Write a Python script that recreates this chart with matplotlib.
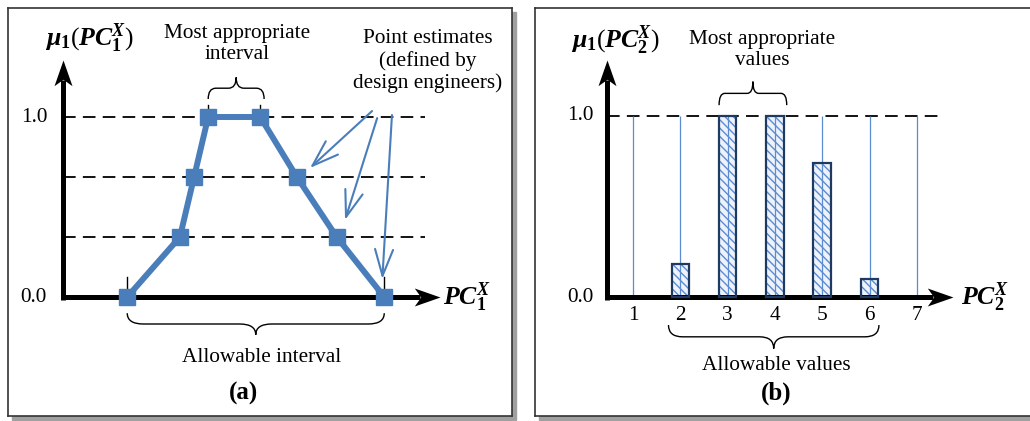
import numpy as np
import matplotlib
matplotlib.use("Agg")
from matplotlib import pyplot as plt
from matplotlib.path import Path
from matplotlib.patches import PathPatch, Rectangle

plt.rcParams['font.family'] = ['Liberation Serif', 'DejaVu Serif']
plt.rcParams['mathtext.fontset'] = 'custom'
plt.rcParams['mathtext.rm'] = 'Liberation Serif'
plt.rcParams['mathtext.it'] = 'Liberation Serif:italic'
plt.rcParams['mathtext.bf'] = 'Liberation Serif:bold'
plt.rcParams['mathtext.bfit'] = 'Liberation Serif:bold:italic'

# panel (a): fuzzy membership function built from point estimates
pc1_x = [1.0, 1.82, 2.04, 2.26, 3.07, 3.64, 4.26, 5.0]
pc1_mu = [0.0, 1/3, 2/3, 1.0, 1.0, 2/3, 1/3, 0.0]
levels_a = [1/3, 2/3, 1.0]

# panel (b): discrete membership values
pc2_vals = [1, 2, 3, 4, 5, 6, 7]
pc2_mu = [0.0, 0.18, 1.0, 1.0, 0.74, 0.10, 0.0]
ytick_labels = ["0.0", "1.0"]

W, H = 1030, 421
BLUE = "#4a7ebb"
LINEBLUE = "#5b8bd0"
NAVY = "#1f3a60"

# stealth arrow heads, tip at (0,0)
head_right = [(0, 0), (-2, 0.7), (-1.5, 0), (-2, -0.7), (0, 0)]
head_up = [(0, 0), (0.7, -2), (0, -1.5), (-0.7, -2), (0, 0)]

fig = plt.figure(figsize=(W / 100, H / 100), dpi=100)


def brace(ax, x0, x1, y0, h, r, lw=1.0):
    xm = (x0 + x1) / 2
    ym = y0 + h / 2
    verts = [(x0, y0), (x0, ym), (x0 + r, ym),
             (xm - r, ym),
             (xm, ym), (xm, y0 + h),
             (xm, ym), (xm + r, ym),
             (x1 - r, ym),
             (x1, ym), (x1, y0)]
    codes = [Path.MOVETO, Path.CURVE3, Path.CURVE3,
             Path.LINETO,
             Path.CURVE3, Path.CURVE3,
             Path.CURVE3, Path.CURVE3,
             Path.LINETO,
             Path.CURVE3, Path.CURVE3]
    ax.add_patch(PathPatch(Path(verts, codes), fill=False, lw=lw, color="black"))


def make_panel(px_left, px_right, px_top, px_bot, ox, oy, sx, sy, x_at_origin):
    # axes whose data coords map onto the pixel box
    ax = fig.add_axes([px_left / W, (H - px_bot) / H,
                       (px_right - px_left) / W, (px_bot - px_top) / H])
    ax.set_xlim(x_at_origin + (px_left - ox) / sx, x_at_origin + (px_right - ox) / sx)
    ax.set_ylim((oy - px_bot) / sy, (oy - px_top) / sy)
    ax.set_xticks([])
    ax.set_yticks([])
    for s in ax.spines.values():
        s.set_linewidth(1.2)
        s.set_color("#333333")
    # drop shadow
    fig.patches.append(Rectangle(((px_left + 4) / W, (H - px_bot - 4) / H),
                                 (px_right - px_left) / W, (px_bot - px_top) / H,
                                 transform=fig.transFigure, color="#a0a0a0",
                                 zorder=-1))
    return ax


def axes_arrows(ax, x0, xend, yend, sx, sy):
    # head length about 25 px
    ax.plot([x0, xend - 20 / sx], [0, 0], color="black", lw=3.6,
            solid_capstyle="butt", zorder=5)
    ax.plot([x0, x0], [-2.5 / sy, yend - 20 / sy], color="black", lw=3.6,
            solid_capstyle="butt", zorder=5)
    ax.plot([xend], [0], marker=head_right, markersize=37, color="black",
            markeredgewidth=0, zorder=6)
    ax.plot([x0], [yend], marker=head_up, markersize=37, color="black",
            markeredgewidth=0, zorder=6)


fs = 15.3
fsl = 18.5

# ---------------- panel (a)
sxa, sya = 64.25, 180.0
axa = make_panel(8, 512, 8, 416, 63, 297, sxa, sya, 0.0)
axes_arrows(axa, 0.0, (440 - 63) / sxa, (297 - 60) / sya, sxa, sya)
for lv in levels_a:
    axa.plot([0, (425 - 63) / sxa], [lv, lv], color="black", lw=1.3,
             dashes=(7, 4), zorder=2)
axa.plot([pc1_x[0]] * 2, [0, 0.11], color="black", lw=1)
axa.plot([pc1_x[-1]] * 2, [0, 0.11], color="black", lw=1)
axa.plot([pc1_x[3]] * 2, [1.0, 1.067], color="black", lw=1)
axa.plot([pc1_x[4]] * 2, [1.0, 1.067], color="black", lw=1)
axa.plot(pc1_x, pc1_mu, color=BLUE, lw=4.3, marker="s", markersize=11, zorder=7)

brace(axa, pc1_x[3], pc1_x[4] + 0.06, 1.0 + 0.1, 0.12, 0.12)
brace(axa, pc1_x[0], pc1_x[-1], -0.09, -0.12, 0.25)

axa.text(0.0 - 0.45, 1.0, "1.0", fontsize=fs, ha="center", va="center")
axa.text(0.0 - 0.46, 0.0, "0.0", fontsize=fs, ha="center", va="center")
axa.text((237 - 63) / sxa, (297 - 44) / sya, "Most appropriate\ninterval", fontsize=fs,
         ha="center", va="center", linespacing=1.2)
axa.text((428 - 63) / sxa, (297 - 61) / sya, "Point estimates\n(defined by\ndesign engineers)",
         fontsize=fs, ha="center", va="center", linespacing=1.2)
axa.text((262 - 63) / sxa, (297 - 357) / sya, "Allowable interval", fontsize=fs,
         ha="center", va="center")
axa.text((243 - 63) / sxa, (297 - 393) / sya, "(a)", fontsize=18, fontweight="bold",
         ha="center", va="center")
axa.text((89 - 63) / sxa, (297 - 38) / sya,
         r"$\mathbfit{\mu}_{\mathbf{1}}(\mathbfit{PC}_{\mathbf{1}}^{\mathbfit{X}})$",
         fontsize=fsl, ha="center", va="center")
axa.text((467 - 63) / sxa, 0.0,
         r"$\mathbfit{PC}_{\mathbf{1}}^{\mathbfit{X}}$",
         fontsize=fsl, ha="center", va="center")

# pointer arrows to the point estimates
starts = [(4.81, 1.033), (4.89, 0.994), (5.12, 1.011)]
ends = [(3.845, 0.717), (4.39, 0.428), (4.97, 0.10)]
for s, e in zip(starts, ends):
    axa.annotate("", xy=e, xytext=s,
                 arrowprops=dict(arrowstyle="->,head_length=1.9,head_width=0.65",
                                 color=BLUE, lw=1.5, shrinkA=0, shrinkB=0))

# ---------------- panel (b)
sxb, syb = 47.3, 181.0
axb = make_panel(535, 1034, 8, 416, 633, 297, sxb, syb, 1.0)
x0b = 1.0 + (607 - 633) / sxb
axes_arrows(axb, x0b, 1.0 + (953 - 633) / sxb, (297 - 60) / syb, sxb, syb)
axb.plot([x0b, 1.0 + (940 - 633) / sxb], [1.0, 1.0], color="black", lw=1.3,
         dashes=(7, 4), zorder=2)
axb.vlines(pc2_vals, 0, 1.0, color=LINEBLUE, lw=0.9, zorder=4)
axb.bar(pc2_vals, pc2_mu, width=0.37, color="#eef3fb", edgecolor=LINEBLUE,
        hatch="\\\\\\\\", lw=0, zorder=3)
axb.bar([v for v, m in zip(pc2_vals, pc2_mu) if m > 0],
        [m for m in pc2_mu if m > 0], width=0.37, fill=False,
        edgecolor=NAVY, lw=1.6, zorder=5)
for v in pc2_vals:
    axb.text(v, (297 - 316) / syb, str(v), fontsize=fs, ha="center", va="center")
axb.text(x0b - 0.57, 1.0, ytick_labels[1], fontsize=fs, ha="center", va="center")
axb.text(x0b - 0.57, 0.0, ytick_labels[0], fontsize=fs, ha="center", va="center")

brace(axb, 2.82, 4.25, 1.06, 0.13, 0.12)
brace(axb, 1.75, 6.2, -0.155, -0.13, 0.3)
axb.text(1.0 + (762 - 633) / sxb, (297 - 50) / syb, "Most appropriate\nvalues", fontsize=fs,
         ha="center", va="center", linespacing=1.2)
axb.text(1.0 + (776 - 633) / sxb, (297 - 365) / syb, "Allowable values", fontsize=fs,
         ha="center", va="center")
axb.text(1.0 + (776 - 633) / sxb, (297 - 393) / syb, "(b)", fontsize=18, fontweight="bold",
         ha="center", va="center")
axb.text(1.0 + (615 - 633) / sxb, (297 - 40) / syb,
         r"$\mathbfit{\mu}_{\mathbf{1}}(\mathbfit{PC}_{\mathbf{2}}^{\mathbfit{X}})$",
         fontsize=fsl, ha="center", va="center")
axb.text(1.0 + (985 - 633) / sxb, 0.0,
         r"$\mathbfit{PC}_{\mathbf{2}}^{\mathbfit{X}}$",
         fontsize=fsl, ha="center", va="center")

fig.savefig("out.png", dpi=100)
